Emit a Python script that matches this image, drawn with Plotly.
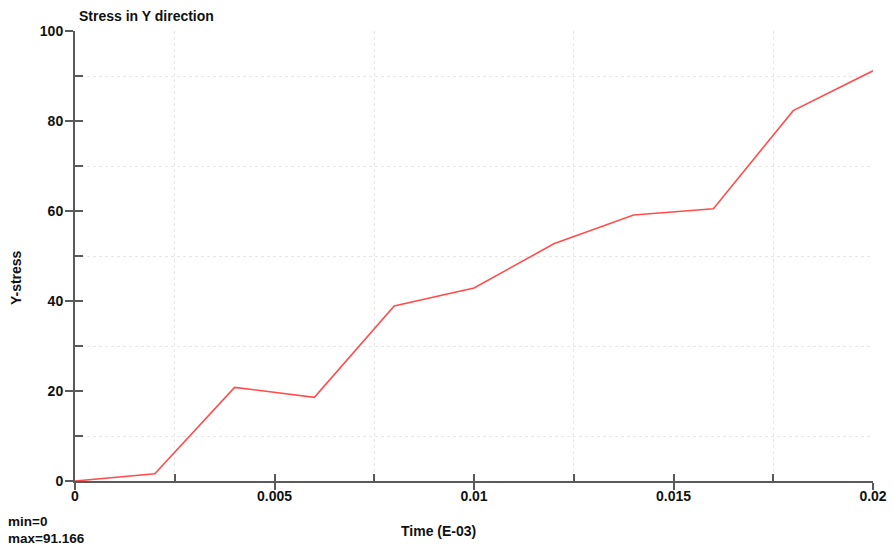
import plotly.graph_objects as go

# Time samples (E-03) and Y-direction stress
time = [0.0, 0.002, 0.004, 0.006, 0.008, 0.010, 0.012, 0.014, 0.016, 0.018, 0.020]
y_stress = [0.0, 1.6, 20.8, 18.6, 38.9, 42.9, 52.7, 59.1, 60.5, 82.3, 91.166]

x_range = [0, 0.02]
y_range = [0, 100]
axis_col = "#5a5a5a"
grid_col = "#e6e6e6"
font_fam = "Liberation Sans, Arial, Helvetica, sans-serif"
bold = dict(family=font_fam, size=14, color="#111111", weight="bold")

fig = go.Figure()
fig.add_trace(go.Scatter(x=time, y=y_stress, mode="lines",
                         line=dict(color="#ff4d4d", width=1.6),
                         hoverinfo="x+y", showlegend=False))
# companion trace on the overlay axes carrying the inward tick marks
fig.add_trace(go.Scatter(x=time, y=y_stress, mode="lines", xaxis="x2", yaxis="y2",
                         line=dict(width=0), opacity=0, hoverinfo="skip", showlegend=False))

common = dict(showline=True, linecolor=axis_col, linewidth=2, zeroline=False,
              tickcolor=axis_col, tickwidth=2, automargin=False)

fig.update_layout(
    width=893, height=550,
    margin=dict(l=75, r=20, t=31, b=69),
    paper_bgcolor="white", plot_bgcolor="white",
    font=bold,
    xaxis=dict(range=x_range, dtick=0.005, tick0=0, ticks="outside", ticklen=7,
               showgrid=False, tickformat="~g", tickfont=bold, ticklabelstandoff=-6,
               minor=dict(dtick=0.0025, tick0=0, showgrid=True, gridcolor=grid_col,
                          griddash="dot", gridwidth=1, ticks=""),
               **common),
    yaxis=dict(range=y_range, dtick=20, tick0=0, ticks="outside", ticklen=8,
               showgrid=False, tickfont=bold, ticklabelstandoff=-1,
               minor=dict(dtick=10, tick0=0, showgrid=True, gridcolor=grid_col,
                          griddash="dot", gridwidth=1, ticks=""),
               **common),
    xaxis2=dict(range=x_range, overlaying="x", anchor="y", side="bottom",
                dtick=0.0025, tick0=0, ticks="inside", ticklen=7,
                showticklabels=False, showgrid=False, **common),
    yaxis2=dict(range=y_range, overlaying="y", anchor="x", side="left",
                dtick=10, tick0=0, ticks="inside", ticklen=8,
                showticklabels=False, showgrid=False, **common),
)

small = dict(bold, size=13.5)
notes = [
    dict(text="Stress in Y direction", x=0.003, y=1.033, xanchor="left", yanchor="middle", font=bold),
    dict(text="Y-stress", x=-0.074, y=0.453, xanchor="center", yanchor="middle", textangle=-90, font=bold),
    dict(text="Time (E-03)", x=0.456, y=-0.111, xanchor="center", yanchor="middle", font=bold),
    dict(text="min=0", x=-0.086, y=-0.089, xanchor="left", yanchor="middle", font=small),
    dict(text=f"max={max(y_stress):g}", x=-0.086, y=-0.127, xanchor="left", yanchor="middle", font=small),
]
for n in notes:
    fig.add_annotation(xref="paper", yref="paper", showarrow=False, **n)

fig.write_html("out.html")
